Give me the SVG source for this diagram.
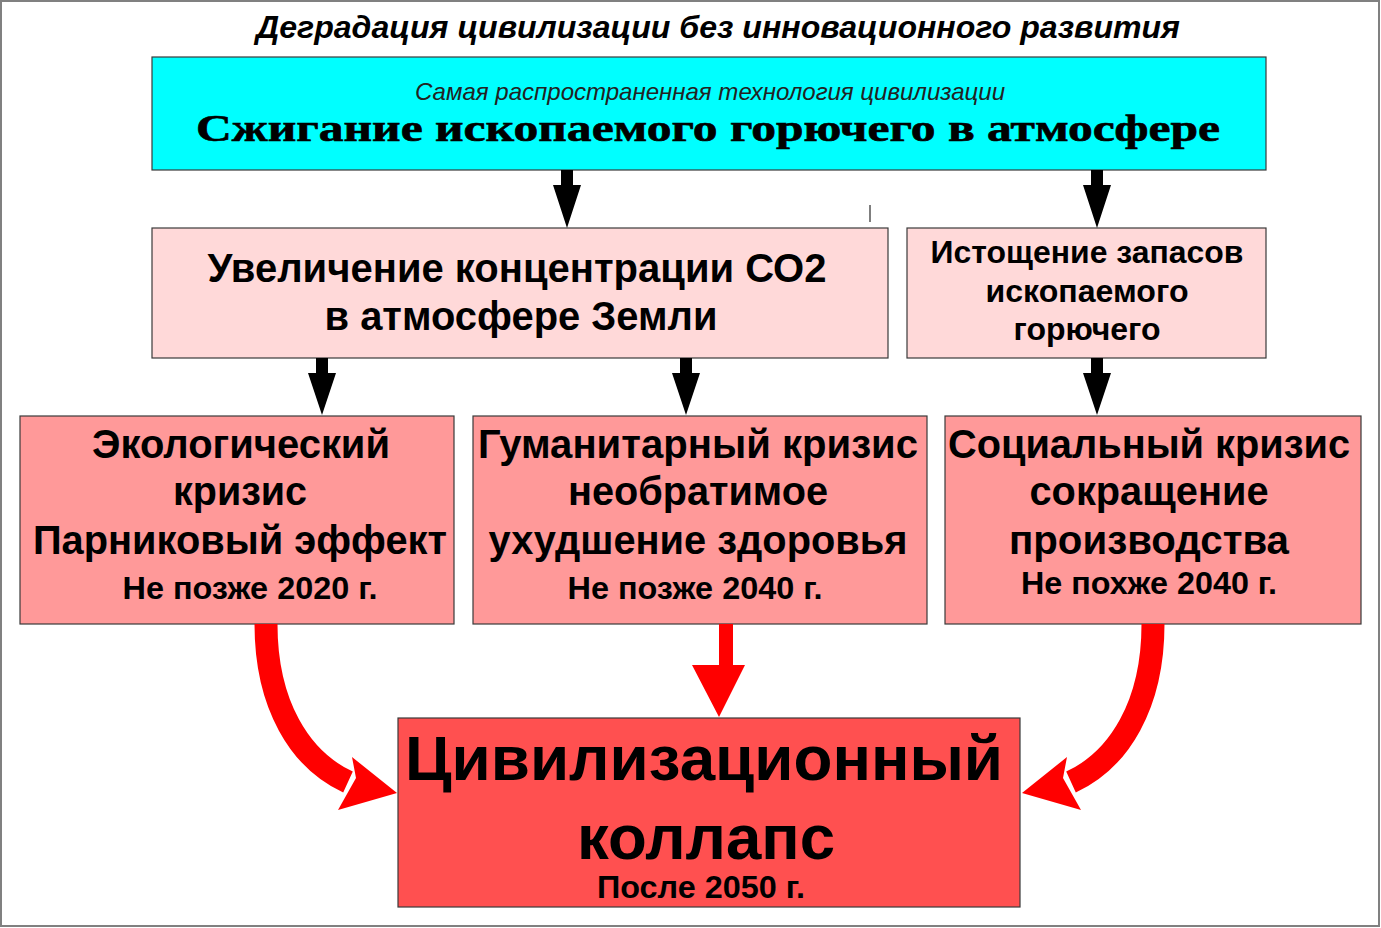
<svg xmlns="http://www.w3.org/2000/svg" width="1381" height="928" viewBox="0 0 1381 928">
<style>
.box{stroke:#3a3a3a;stroke-width:1.2}
.t{font-family:"Liberation Sans",Arial,sans-serif;font-weight:bold;fill:#000;text-anchor:middle}
.blk{fill:#000}
.red{fill:#ff0000}
</style>
<rect x="1" y="1" width="1378" height="925" fill="#fff" stroke="#808080" stroke-width="2"/>
<text class="t" x="718" y="38" font-size="31" font-style="italic" textLength="924" lengthAdjust="spacingAndGlyphs">Деградация цивилизации без инновационного развития</text>
<g id="top">
<rect class="box" x="152" y="57" width="1114" height="113" fill="#00ffff"/>
<text x="710" y="100" font-family="Liberation Sans,Arial,sans-serif" font-style="italic" font-size="24" fill="#222" text-anchor="middle" textLength="590" lengthAdjust="spacingAndGlyphs">Самая распространенная технология цивилизации</text>
<text x="708" y="141" font-family="Liberation Serif,'Times New Roman',serif" font-weight="bold" font-size="37" fill="#000" text-anchor="middle" textLength="1024" lengthAdjust="spacingAndGlyphs" stroke="#000" stroke-width="0.6">Сжигание ископаемого горючего в атмосфере</text>
</g>
<g id="co2">
<rect class="box" x="152" y="228" width="736" height="130" fill="#ffd9d9"/>
<text class="t" x="517" y="282" font-size="40" textLength="619" lengthAdjust="spacingAndGlyphs">Увеличение концентрации СО2</text>
<text class="t" x="521" y="330" font-size="40" textLength="393" lengthAdjust="spacingAndGlyphs">в атмосфере Земли</text>
</g>
<g id="depletion">
<rect class="box" x="907" y="228" width="359" height="130" fill="#ffd9d9"/>
<text class="t" x="1087" y="263" font-size="32" textLength="313" lengthAdjust="spacingAndGlyphs">Истощение запасов</text>
<text class="t" x="1087" y="302" font-size="32" textLength="203" lengthAdjust="spacingAndGlyphs">ископаемого</text>
<text class="t" x="1087" y="340" font-size="32" textLength="147" lengthAdjust="spacingAndGlyphs">горючего</text>
</g>
<g id="eco">
<rect class="box" x="20" y="416" width="434" height="208" fill="#ff9999"/>
<text class="t" x="241" y="458" font-size="40" textLength="298" lengthAdjust="spacingAndGlyphs">Экологический</text>
<text class="t" x="240" y="505" font-size="40" textLength="134" lengthAdjust="spacingAndGlyphs">кризис</text>
<text class="t" x="240" y="554" font-size="40" textLength="414" lengthAdjust="spacingAndGlyphs">Парниковый эффект</text>
<text class="t" x="250" y="599" font-size="31" textLength="255" lengthAdjust="spacingAndGlyphs">Не позже 2020 г.</text>
</g>
<g id="hum">
<rect class="box" x="473" y="416" width="454" height="208" fill="#ff9999"/>
<text class="t" x="698" y="458" font-size="40" textLength="440" lengthAdjust="spacingAndGlyphs">Гуманитарный кризис</text>
<text class="t" x="698" y="505" font-size="40" textLength="260" lengthAdjust="spacingAndGlyphs">необратимое</text>
<text class="t" x="698" y="554" font-size="40" textLength="419" lengthAdjust="spacingAndGlyphs">ухудшение здоровья</text>
<text class="t" x="695" y="599" font-size="31" textLength="255" lengthAdjust="spacingAndGlyphs">Не позже 2040 г.</text>
</g>
<g id="soc">
<rect class="box" x="945" y="416" width="416" height="208" fill="#ff9999"/>
<text class="t" x="1149" y="458" font-size="40" textLength="402" lengthAdjust="spacingAndGlyphs">Социальный кризис</text>
<text class="t" x="1149" y="505" font-size="40" textLength="239" lengthAdjust="spacingAndGlyphs">сокращение</text>
<text class="t" x="1149" y="554" font-size="40" textLength="280" lengthAdjust="spacingAndGlyphs">производства</text>
<text class="t" x="1149" y="594" font-size="31" textLength="256" lengthAdjust="spacingAndGlyphs">Не похже 2040 г.</text>
</g>
<g id="collapse">
<rect class="box" x="398" y="718" width="622" height="189" fill="#ff5050"/>
<text class="t" x="704" y="780" font-size="63" textLength="598" lengthAdjust="spacingAndGlyphs">Цивилизационный</text>
<text class="t" x="706" y="859" font-size="63" textLength="258" lengthAdjust="spacingAndGlyphs">коллапс</text>
<text class="t" x="701" y="898" font-size="31" textLength="208" lengthAdjust="spacingAndGlyphs">После 2050 г.</text>
</g>
<g id="connectors">
<line x1="870" y1="205" x2="870" y2="222" stroke="#555" stroke-width="1.5"/>
<g class="blk">
<polygon points="561,170 573,170 573,185 581,185 567,228 553,185 561,185"/>
<polygon points="1091,170 1103,170 1103,185 1111,185 1097,228 1083,185 1091,185"/>
<polygon points="316,358 328,358 328,373 336,373 322,415 308,373 316,373"/>
<polygon points="680,358 692,358 692,373 700,373 686,415 672,373 680,373"/>
<polygon points="1091,358 1103,358 1103,373 1111,373 1097,415 1083,373 1091,373"/>
</g>
<g class="red">
<polygon points="719,624 733,624 733,665 745,665 719,717 692,665 719,665"/>
<path d="M266 624 C266 705 300 760 348 782" fill="none" stroke="#ff0000" stroke-width="23"/>
<polygon points="397,793 352,757 356,778 338,810"/>
<path d="M1153 624 C1153 705 1119 760 1071 782" fill="none" stroke="#ff0000" stroke-width="23"/>
<polygon points="1022,793 1067,757 1063,778 1081,810"/>
</g>
</g>
</svg>
